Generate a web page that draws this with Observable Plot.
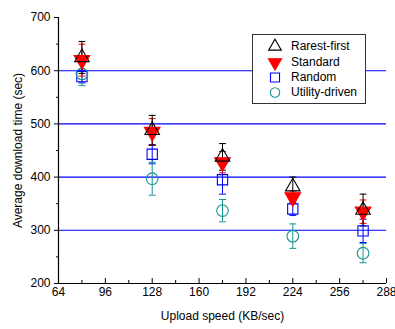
<!DOCTYPE html>
<html><head><meta charset="utf-8">
<script src="https://cdn.jsdelivr.net/npm/d3@7"></script>
<script src="https://cdn.jsdelivr.net/npm/@observablehq/plot@0.6"></script>
<style>
body{margin:0;background:#fff;font-family:"Liberation Sans",Arial,sans-serif;}
#wrap{position:relative;width:395px;height:329px;}
.legend{position:absolute;left:252px;top:34px;width:114px;height:70px;border:1px solid #333;background:#fff;font-size:12px;color:#000;box-sizing:border-box;}
.legend .row{position:absolute;left:0;height:15px;}
.legend svg{position:absolute;left:13px;top:-1px;}
.legend span{position:absolute;left:38px;white-space:nowrap;line-height:15px;}
</style></head><body><div id="wrap"></div>
<script>
// Data
const speeds = [80, 128, 176, 224, 272];
const seriesNames = ["Rarest-first", "Standard", "Random", "Utility-driven"];
const rarestFirst = [625, 488, 438, 382, 338];
const rarestFirstErr = [30, 28, 25, 18, 30];
const standard = [620, 485, 428, 362, 335];
const standardErr = [30, 25, 20, 12, 22];
const random = [589, 443, 395, 340, 299];
const randomErr = [12, 18, 27, 12, 22];
const utility = [594, 397, 337, 289, 257];
const utilityErr = [22, 31, 21, 23, 18];
const xTicks = [64, 96, 128, 160, 192, 224, 256, 288];
const xMinorTicks = [80, 112, 144, 176, 208, 240, 272];
const yTicks = [200, 300, 400, 500, 600, 700];
const yMinorTicks = [250, 350, 450, 550, 650];
const gridValues = [300, 400, 500, 600];

// Symbols
const triDown = {draw(ctx, size) {
  const y = Math.sqrt(size / (3 * Math.sqrt(3)));
  ctx.moveTo(0, 2 * y); ctx.lineTo(-Math.sqrt(3) * y, -y); ctx.lineTo(Math.sqrt(3) * y, -y); ctx.closePath();
}};
const cap = {draw(ctx, size) {
  const r = Math.sqrt(size / Math.PI);
  ctx.moveTo(-r, 0); ctx.lineTo(r, 0);
}};

const styles = [
  {name: seriesNames[0], vals: rarestFirst, err: rarestFirstErr, color: "#000000", symbol: "triangle", fill: "none", r: 5.4, lr: 4.7},
  {name: seriesNames[1], vals: standard, err: standardErr, color: "#ff0000", symbol: triDown, fill: "#ff0000", r: 5.8, lr: 4.9},
  {name: seriesNames[2], vals: random, err: randomErr, color: "#0000ff", symbol: "square", fill: "none", r: 5.8, lr: 5.1},
  {name: seriesNames[3], vals: utility, err: utilityErr, color: "#169494", symbol: "circle", fill: "none", r: 5.8, lr: 4.7}
];
const drawOrder = [2, 3, 1, 0];

const marks = [
  Plot.ruleY(gridValues, {stroke: "#0000ff", strokeWidth: 1.1}),
  Plot.ruleX([64], {stroke: "#000", strokeWidth: 1.2}),
  Plot.ruleY([200], {stroke: "#000", strokeWidth: 1.2}),
  Plot.axisX(xTicks, {tickSize: 0, tickPadding: 4, fontSize: 12, label: "Upload speed (KB/sec)", labelAnchor: "center", labelOffset: 36, labelArrow: "none"}),
  Plot.axisX(xTicks, {tickSize: -5, tickFormat: () => "", label: null}),
  Plot.axisX(xMinorTicks, {tickSize: -3, tickFormat: () => "", label: null}),
  Plot.axisY(yTicks, {tickSize: 4, tickPadding: 4, fontSize: 12, label: "Average download time (sec)", labelAnchor: "center", labelOffset: 45, labelArrow: "none"}),
  Plot.axisY(yMinorTicks, {tickSize: 2, tickFormat: () => "", label: null})
];
for (const i of drawOrder) {
  const s = styles[i];
  const rows = speeds.map((x, j) => ({x, y: s.vals[j], e: s.err[j]}));
  marks.push(
    Plot.ruleX(rows, {x: "x", y1: d => d.y - d.e, y2: d => d.y + d.e, stroke: s.color, strokeWidth: 1}),
    Plot.dot(rows, {x: "x", y: d => d.y - d.e, symbol: cap, r: 3.5, stroke: s.color, strokeWidth: 1}),
    Plot.dot(rows, {x: "x", y: d => d.y + d.e, symbol: cap, r: 3.5, stroke: s.color, strokeWidth: 1})
  );
}
for (const i of drawOrder) {
  const s = styles[i];
  const rows = speeds.map((x, j) => ({x, y: s.vals[j]}));
  marks.push(Plot.dot(rows, {x: "x", y: "y", symbol: s.symbol, r: s.r, stroke: s.color, fill: s.fill, strokeWidth: 1.1}));
}

const chart = Plot.plot({
  width: 395, height: 329,
  marginLeft: 58, marginRight: 9, marginTop: 17, marginBottom: 46,
  style: {fontFamily: "'Liberation Sans', Arial, sans-serif", fontSize: "12px", color: "#000", background: "#fff"},
  x: {domain: [64, 288], axis: null},
  y: {domain: [200, 700], axis: null},
  marks
});
const wrap = document.getElementById("wrap");
wrap.appendChild(chart);

// Legend
const leg = document.createElement("div");
leg.className = "legend";
styles.forEach((s, k) => {
  const row = document.createElement("div");
  row.className = "row";
  row.style.top = (4.2 + k * 15.3) + "px";
  const svg = d3.create("svg").attr("width", 18).attr("height", 17);
  const symObj = s.symbol === "triangle" ? d3.symbolTriangle : s.symbol === "square" ? d3.symbolSquare : s.symbol === "circle" ? d3.symbolCircle : s.symbol;
  svg.append("path").attr("transform", "translate(9,8.5)")
    .attr("d", d3.symbol(symObj, s.lr * s.lr * Math.PI)())
    .attr("fill", s.fill).attr("stroke", s.color).attr("stroke-width", 1.1);
  row.appendChild(svg.node());
  const t = document.createElement("span");
  t.textContent = s.name;
  row.appendChild(t);
  leg.appendChild(row);
});
wrap.appendChild(leg);
</script></body></html>
